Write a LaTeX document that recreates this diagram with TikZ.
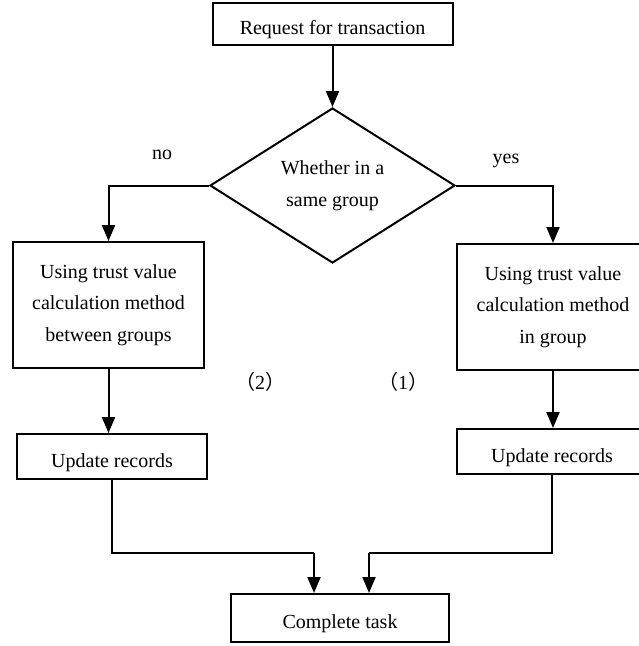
\documentclass[tikz,border=0pt]{standalone}
\usepackage{fontspec}
\setmainfont{Liberation Serif}
\newfontfamily\cjk{Noto Sans CJK SC}
\usepackage{tikz}
\usetikzlibrary{shapes.geometric}
\usetikzlibrary{arrows.meta}
\tikzset{
  flowbox/.style={draw, rectangle, line width=2pt, inner sep=0pt, align=center},
  lowtext/.style={text height=25pt, text depth=4pt},
  choice/.style={draw, diamond, line width=2pt, inner sep=0pt, align=center,
    minimum width=245pt, minimum height=155pt},
  flowline/.style={line width=2pt},
  flowarrow/.style={line width=2pt, -{Triangle[width=13pt,length=16pt]}},
  tag/.style={inner sep=0pt}
}
\begin{document}
\begin{tikzpicture}[x=1pt,y=-1pt,font=\fontsize{20}{31.5}\selectfont]
        \useasboundingbox (0,0) rectangle (639,646);
        % top
        \node[flowbox, lowtext, minimum width=240pt, minimum height=42pt] (req) at (332.5,24) {Request for transaction};
        \node[choice] (dec) at (332.5,185.5) {Whether in a\\same group};
        % left branch
        \node[flowbox, minimum width=191pt, minimum height=126pt] (calcL) at (108.5,305) {Using trust value\\calculation method\\between groups};
        \node[flowbox, lowtext, minimum width=190pt, minimum height=45pt] (updL) at (112,456.5) {Update records};
        % right branch
        \node[flowbox, minimum width=192pt, minimum height=126pt] (calcR) at (553,307) {Using trust value\\calculation method\\in group};
        \node[flowbox, lowtext, minimum width=190pt, minimum height=45pt] (updR) at (552,451.5) {Update records};
        % end
        \node[flowbox, lowtext, minimum width=218pt, minimum height=48pt] (done) at (340,618) {Complete task};
        % labels
        \node[tag] (no) at (162,155) {no};
        \node[tag] (yes) at (506,161) {yes};
        \node[tag] (two) at (260,382) {{\cjk （}2{\cjk ）}};
        \node[tag] (one) at (403,382) {{\cjk （}1{\cjk ）}};
        % joints
        \coordinate (jL) at (314,553);
        \coordinate (jR) at (369,553);

        \draw[flowarrow] (req.south) -- (dec.north);
        \draw[flowarrow] (dec.west) -| (calcL.north);
        \draw[flowarrow] (dec.east) -| (calcR.north);
        \draw[flowarrow] (calcL.south) -- (calcL.south |- updL.north);
        \draw[flowarrow] (calcR.south) -- (calcR.south |- updR.north);
        \draw[flowline] (updL.south) |- (jL);
        \draw[flowarrow] (jL) -- (jL |- done.north);
        \draw[flowline] (updR.south) |- (jR);
        \draw[flowarrow] (jR) -- (jR |- done.north);
    \end{tikzpicture}
\end{document}
